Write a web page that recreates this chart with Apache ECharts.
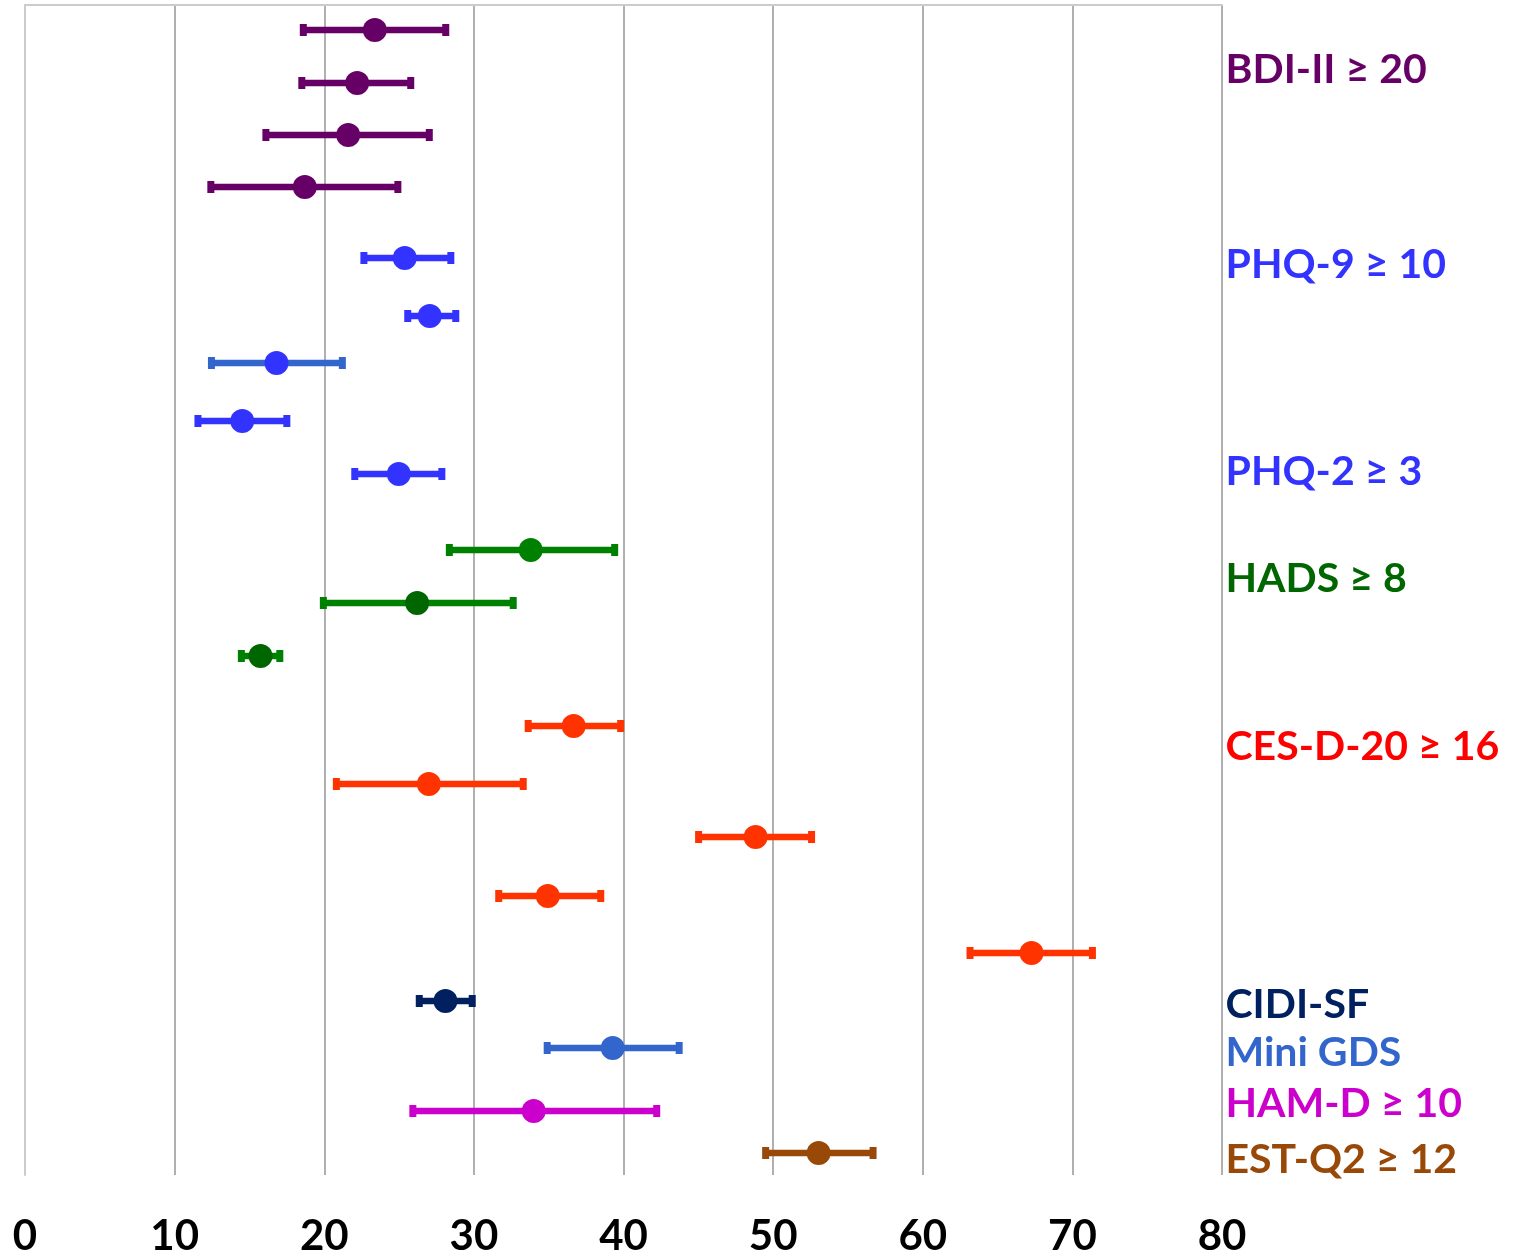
<!DOCTYPE html>
<html>
<head>
<meta charset="utf-8">
<title>Prevalence estimates by screening instrument</title>
<script src="https://cdn.jsdelivr.net/npm/echarts@6/dist/echarts.min.js"></script>
<style>
  html, body { margin: 0; padding: 0; background: #ffffff; }
  #chart { width: 1516px; height: 1254px; }
</style>
</head>
<body>
<div id="chart"></div>
<script>
// Vertical position of each study row (0 = top of plot, 117 = bottom)
const rowPos   = [2.5, 7.8, 13.0, 18.2, 25.3, 31.1, 35.8, 41.6, 46.9, 54.5, 59.8, 65.1, 72.1, 77.9, 83.2, 89.1, 94.8, 99.6, 104.3, 110.6, 114.8];
// Point estimates and confidence limits (%)
const estimate = [23.38, 22.20, 21.60, 18.70, 25.38, 27.05, 16.81, 14.52, 24.98, 33.80, 26.21, 15.74, 36.67, 26.99, 48.83, 34.94, 67.27, 28.10, 39.28, 34.00, 53.04];
const lower    = [18.60, 18.50, 16.10, 12.42, 22.65, 25.58, 12.46, 11.56, 22.04, 28.36, 19.94, 14.46, 33.63, 20.81, 45.02, 31.66, 63.16, 26.35, 34.90, 25.92, 49.50];
const upper    = [28.12, 25.78, 27.02, 24.92, 28.46, 28.79, 21.21, 17.50, 27.86, 39.41, 32.63, 17.03, 39.81, 33.30, 52.57, 38.48, 71.34, 29.89, 43.72, 42.22, 56.68];

// Instrument labels and their vertical positions
const groupNames = ['BDI-II \u2265 20', 'PHQ-9 \u2265 10', 'PHQ-2 \u2265 3', 'HADS \u2265 8', 'CES-D-20 \u2265 16', 'CIDI-SF', 'Mini GDS', 'HAM-D \u2265 10', 'EST-Q2 \u2265 12'];
const groupPos   = [6.5, 26.0, 46.7, 57.4, 74.2, 100.0, 104.8, 109.9, 115.5];

// x-axis ticks
const xTicks = [0, 10, 20, 30, 40, 50, 60, 70, 80];

// Colours
const barColor = ['#660066', '#660066', '#660066', '#660066', '#3333FF', '#3333FF', '#3366CC', '#3333FF', '#3333FF',
                  '#008000', '#008000', '#008000', '#FF3300', '#FF3300', '#FF3300', '#FF3300', '#FF3300',
                  '#002060', '#3366CC', '#CC00CC', '#984807'];
const dotColor = ['#660066', '#660066', '#660066', '#660066', '#3333FF', '#3333FF', '#3333FF', '#3333FF', '#3333FF',
                  '#008000', '#006600', '#006600', '#FF3300', '#FF3300', '#FF3300', '#FF3300', '#FF3300',
                  '#002060', '#3366CC', '#CC00CC', '#984807'];
const groupColor = ['#660066', '#3333FF', '#3333FF', '#006600', '#FF0000', '#002060', '#3366CC', '#CC00CC', '#984807'];

const FONT = 'Lato, "Open Sans", sans-serif';

const chart = echarts.init(document.getElementById('chart'), null, { renderer: 'canvas' });

const errorData = rowPos.map((p, i) => [lower[i], upper[i], p, i]);
const dotData = rowPos.map((p, i) => ({ value: [estimate[i], p], itemStyle: { color: dotColor[i], opacity: 1 } }));
const labelData = groupPos.map((p, i) => ({
  value: [xTicks[xTicks.length - 1], p],
  name: groupNames[i],
  label: { color: groupColor[i] }
}));

chart.setOption({
  animation: false,
  backgroundColor: '#ffffff',
  grid: { left: 25, right: 294, top: 5, bottom: 79, containLabel: false, outerBoundsMode: 'none' },
  xAxis: {
    type: 'value',
    min: xTicks[0],
    max: xTicks[xTicks.length - 1],
    interval: 10,
    axisLine: { show: true, lineStyle: { color: '#cccccc', width: 2 } },
    axisTick: { show: false },
    splitLine: { show: true, lineStyle: { color: '#b0b0b0', width: 2 } },
    axisLabel: {
      margin: 40,
      color: '#000000',
      fontSize: 42,
      fontWeight: 'bold',
      fontFamily: FONT
    }
  },
  yAxis: {
    type: 'value',
    min: 0,
    max: 117,
    inverse: true,
    axisLine: { show: true, lineStyle: { color: '#cccccc', width: 2 } },
    axisTick: { show: false },
    axisLabel: { show: false },
    splitLine: { show: false }
  },
  series: [
    {
      type: 'custom',
      name: 'CI',
      data: errorData,
      encode: { x: [0, 1], y: 2 },
      renderItem: function (params, api) {
        const i = api.value(3);
        const a = api.coord([api.value(0), api.value(2)]);
        const b = api.coord([api.value(1), api.value(2)]);
        const c = barColor[i];
        const capW = 7, capH = 12;
        return {
          type: 'group',
          children: [
            { type: 'line', shape: { x1: a[0], y1: a[1], x2: b[0], y2: b[1] }, style: { stroke: c, lineWidth: 6.5 } },
            { type: 'rect', shape: { x: a[0] - capW / 2, y: a[1] - capH / 2, width: capW, height: capH }, style: { fill: c } },
            { type: 'rect', shape: { x: b[0] - capW / 2, y: b[1] - capH / 2, width: capW, height: capH }, style: { fill: c } }
          ]
        };
      },
      z: 2
    },
    {
      type: 'scatter',
      name: 'Estimate',
      data: dotData,
      symbol: 'circle',
      symbolSize: 24,
      itemStyle: { opacity: 1 },
      z: 3
    },
    {
      type: 'scatter',
      name: 'Instrument',
      data: labelData,
      symbolSize: 1,
      itemStyle: { color: 'rgba(0,0,0,0)', opacity: 1 },
      label: {
        show: true,
        position: 'right',
        distance: 3,
        formatter: '{b}',
        fontSize: 41,
        fontWeight: 'bold',
        fontFamily: FONT,
        opacity: 1
      },
      z: 4
    }
  ]
});
</script>
</body>
</html>
